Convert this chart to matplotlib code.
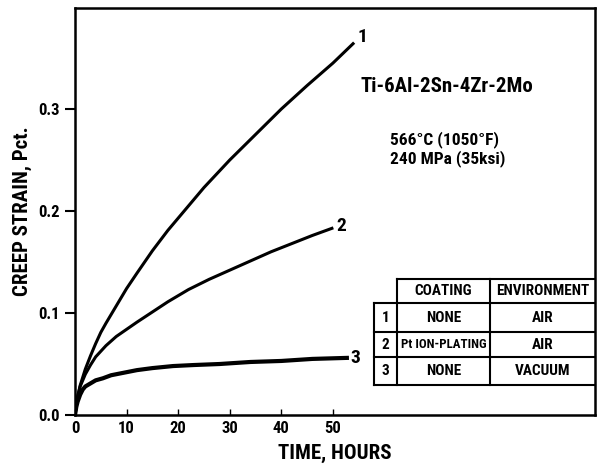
import matplotlib.pyplot as plt

plt.rcParams['font.family'] = ['Liberation Sans Narrow', 'Roboto Condensed',
                               'Open Sans Condensed', 'Liberation Sans', 'DejaVu Sans']
plt.rcParams['font.weight'] = 'bold'
plt.rcParams['axes.labelweight'] = 'bold'

# creep curves (hours, pct strain)
hours_1 = [0, 0.5, 1, 2, 3, 4, 5, 6, 8, 10, 12, 15, 18, 20, 25, 30, 35, 40, 45, 50, 53.9]
strain_1 = [0, 0.018, 0.029, 0.045, 0.058, 0.070, 0.081, 0.090, 0.107, 0.124, 0.139,
            0.161, 0.181, 0.193, 0.223, 0.250, 0.275, 0.300, 0.323, 0.345, 0.364]

hours_2 = [0, 0.5, 1, 2, 3, 4, 6, 8, 10, 12, 15, 18, 22, 26, 30, 34, 38, 42, 46, 49.8]
strain_2 = [0, 0.018, 0.028, 0.040, 0.049, 0.057, 0.068, 0.077, 0.084, 0.091, 0.101,
            0.111, 0.123, 0.133, 0.142, 0.151, 0.160, 0.168, 0.176, 0.183]

hours_3 = [0, 0.25, 0.5, 1, 1.5, 2, 3, 4, 5.4, 7, 9, 12, 15, 19, 23, 28, 34, 40, 46, 52.7]
strain_3 = [0, 0.008, 0.013, 0.020, 0.025, 0.028, 0.031, 0.034, 0.036, 0.039, 0.041,
            0.044, 0.046, 0.048, 0.049, 0.050, 0.052, 0.053, 0.055, 0.056]

curve_labels = ["1", "2", "3"]
x_ticks = [0, 10, 20, 30, 40, 50]
y_ticks = [0.0, 0.1, 0.2, 0.3]

table_header = ["COATING", "ENVIRONMENT"]
table_rows = [["1", "NONE", "AIR"],
              ["2", "Pt ION-PLATING", "AIR"],
              ["3", "NONE", "VACUUM"]]

fig = plt.figure(figsize=(6.03, 4.67), dpi=100)
ax = fig.add_axes([0.1244, 0.1113, 0.8623, 0.8716])

ax.plot(hours_1, strain_1, color='black', lw=2.2)
ax.plot(hours_2, strain_2, color='black', lw=2.2)
ax.plot(hours_3, strain_3, color='black', lw=3.0)

# curve numbers next to line ends
ax.text(hours_1[-1] + 0.8, strain_1[-1] + 0.007, curve_labels[0], fontsize=14, va='center')
ax.text(hours_2[-1] + 0.8, strain_2[-1] + 0.002, curve_labels[1], fontsize=14, va='center')
ax.text(hours_3[-1] + 0.6, strain_3[-1], curve_labels[2], fontsize=14, va='center')

ax.set_xlim(0, 100.8)
ax.set_ylim(0, 0.399)
ax.set_xticks(x_ticks)
ax.set_xticklabels([str(t) for t in x_ticks])
ax.set_yticks(y_ticks)
ax.set_yticklabels([f"{t:.1f}" for t in y_ticks])
ax.tick_params(axis='x', direction='in', length=4, width=1, labelsize=12, pad=4)
ax.tick_params(axis='y', direction='out', length=7, width=1.5, labelsize=12, pad=4)
for s in ax.spines.values():
    s.set_linewidth(1.8)

ax.set_xlabel("TIME, HOURS", fontsize=15)
ax.set_ylabel("CREEP STRAIN, Pct.", fontsize=15)
ax.xaxis.set_label_coords(0.5, -0.072)
ax.yaxis.set_label_coords(-0.083, 0.5)

ax.text(0.550, 0.807, "Ti-6Al-2Sn-4Zr-2Mo", transform=ax.transAxes, fontsize=15, va='center')
ax.text(0.605, 0.677, "566°C (1050°F)", transform=ax.transAxes, fontsize=12.5, va='center')
ax.text(0.605, 0.630, "240 MPa (35ksi)", transform=ax.transAxes, fontsize=12.5, va='center')

# table drawn with lines in axes fraction
tr = ax.transAxes
kw = dict(transform=tr, color='black', lw=1.5, clip_on=False)
x0, x1, x2, x3 = 0.575, 0.619, 0.798, 1.0
ys = [0.334, 0.275, 0.204, 0.1425, 0.0737]
ax.plot([x1, x3], [ys[0], ys[0]], **kw)
for y in ys[1:]:
    ax.plot([x0, x3], [y, y], **kw)
ax.plot([x1, x1], [ys[0], ys[-1]], **kw)
ax.plot([x2, x2], [ys[0], ys[-1]], **kw)
ax.plot([x0, x0], [ys[1], ys[-1]], **kw)

tsize = 11
ax.text((x1 + x2) / 2, (ys[0] + ys[1]) / 2, table_header[0], transform=tr,
        ha='center', va='center', fontsize=tsize)
ax.text((x2 + x3) / 2, (ys[0] + ys[1]) / 2, table_header[1], transform=tr,
        ha='center', va='center', fontsize=tsize)
for i, row in enumerate(table_rows):
    yc = (ys[i + 1] + ys[i + 2]) / 2
    ax.text((x0 + x1) / 2, yc, row[0], transform=tr, ha='center', va='center', fontsize=tsize)
    ax.text((x1 + x2) / 2, yc, row[1], transform=tr, ha='center', va='center',
            fontsize=tsize if len(row[1]) < 10 else 9.3)
    ax.text((x2 + x3) / 2, yc, row[2], transform=tr, ha='center', va='center', fontsize=tsize)

fig.savefig("out.png", dpi=100)
